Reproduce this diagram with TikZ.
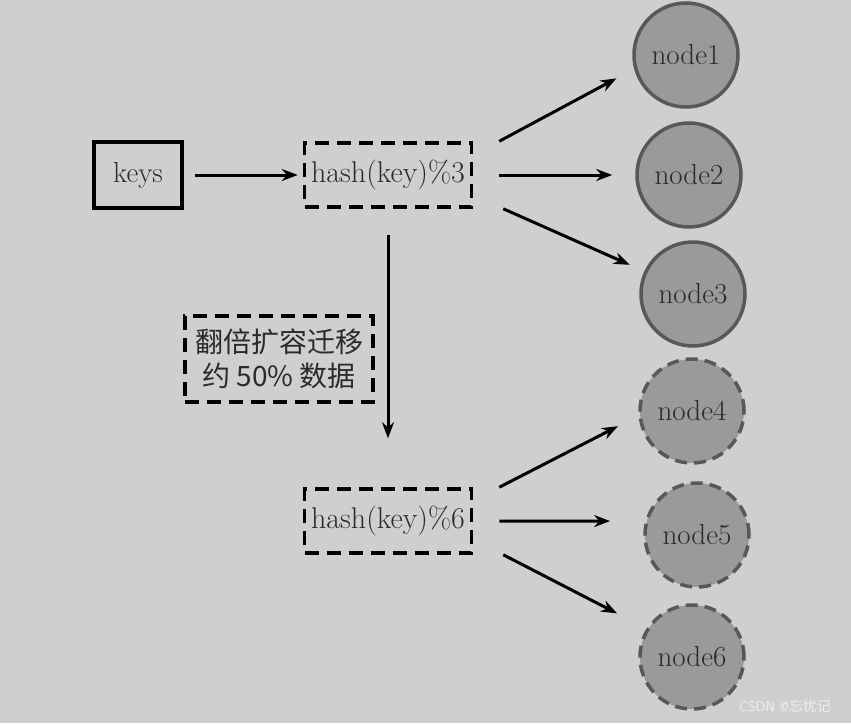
\documentclass[tikz,border=0pt]{standalone}
\usepackage{fontspec}
\newfontfamily\cjk{Noto Sans CJK SC}
\usetikzlibrary{arrows.meta}
\definecolor{bg}{HTML}{CFCFCF}
\definecolor{srvfill}{HTML}{9A9A9A}
\definecolor{srvline}{HTML}{585858}
\definecolor{txt}{HTML}{2A2A2A}
\begin{document}
\begin{tikzpicture}[x=1pt,y=-1pt,
  box/.style={draw,line width=3.5pt,inner sep=0pt,text=txt,font=\fontsize{29}{32}\selectfont},
  dbox/.style={box,dash pattern=on 14pt off 8pt,font=\fontsize{30}{32}\selectfont},
  srv/.style={circle,draw=srvline,fill=srvfill,line width=3.5pt,minimum size=104pt,inner sep=0pt,text=txt,font=\fontsize{29}{32}\selectfont},
  dsrv/.style={srv,dash pattern=on 12pt off 7pt},
  arr/.style={-{Stealth[length=16pt,width=12pt]},line width=3pt}]
\fill[bg] (0,0) rectangle (851,723);
\node[box,minimum width=88pt,minimum height=66pt] (keys) at (138,175) {keys};
\node[dbox,minimum width=167pt,minimum height=64pt] (h3) at (388,175) {hash(key)\%3};
\node[dbox,minimum width=167pt,minimum height=64pt] (h6) at (388,521) {hash(key)\%6};
\node[dbox,minimum width=188pt,minimum height=86pt,align=center,
  font=\cjk\fontsize{28}{34}\selectfont] (mig) at (279,359) {翻倍扩容迁移\\约 50\% 数据};
\node[srv] (n1) at (686,55) {node1};
\node[srv] (n2) at (689,175) {node2};
\node[srv] (n3) at (693,294) {node3};
\node[dsrv] (n4) at (692,411) {node4};
\node[dsrv] (n5) at (697,535) {node5};
\node[dsrv] (n6) at (692,657) {node6};
\draw[arr,shorten <=11pt,shorten >=5pt] (keys.east) -- (h3.west);
\draw[arr,shorten >=20pt] ([xshift=26pt]h3.north east) -- (n1.195);
\draw[arr,shorten >=23pt] ([xshift=26pt]h3.east) -- (n2.west);
\draw[arr,shorten >=16pt] ([xshift=30pt]h3.south east) -- (n3.155);
\draw[arr,shorten <=26pt,shorten >=49pt] (h3.south) -- (h6.north);
\draw[arr,shorten >=23pt] ([xshift=26pt]h6.north east) -- (n4.185);
\draw[arr,shorten >=35pt] ([xshift=26pt]h6.east) -- (n5.165);
\draw[arr,shorten >=33pt] ([xshift=30pt]h6.south east) -- (n6.148);
\node[text=white!88!gray,font=\fontsize{14}{16}\selectfont\sffamily] (wm) at (785,706) {CSDN @{\cjk 忘忧记}};
\end{tikzpicture}
\end{document}
